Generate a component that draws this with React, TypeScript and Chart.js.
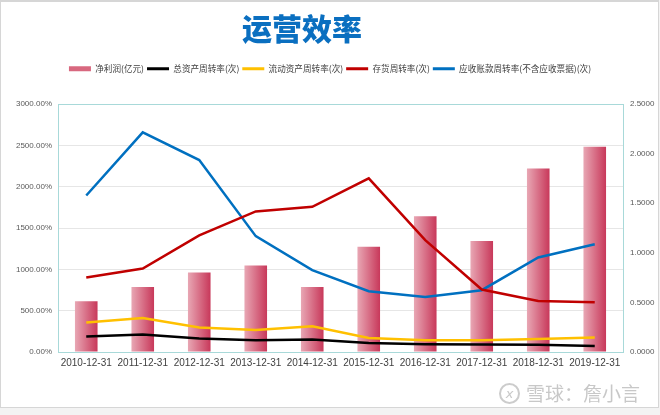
import React, { useEffect, useRef } from 'react';
import { Chart, registerables } from 'chart.js';

Chart.register(...registerables);

const categories = [
  '2010-12-31', '2011-12-31', '2012-12-31', '2013-12-31', '2014-12-31',
  '2015-12-31', '2016-12-31', '2017-12-31', '2018-12-31', '2019-12-31',
];
// 净利润(亿元) — left axis (shown as percentage format)
const netProfit = [6.14, 7.87, 9.62, 10.46, 7.87, 12.72, 16.43, 13.44, 22.21, 24.83];
// right axis series
const totalAssetTurnover = [0.155, 0.176, 0.135, 0.118, 0.125, 0.091, 0.078, 0.075, 0.072, 0.061];
const currentAssetTurnover = [0.297, 0.343, 0.246, 0.222, 0.259, 0.141, 0.118, 0.118, 0.131, 0.145];
const inventoryTurnover = [0.751, 0.842, 1.175, 1.417, 1.463, 1.75, 1.127, 0.63, 0.515, 0.502];
const receivableTurnover = [1.578, 2.214, 1.935, 1.168, 0.825, 0.613, 0.555, 0.623, 0.953, 1.087];

const seriesNames = [
  '净利润(亿元)',
  '总资产周转率(次)',
  '流动资产周转率(次)',
  '存货周转率(次)',
  '应收账款周转率(不含应收票据)(次)',
];
const titleText = '运营效率';
const watermarkText = '雪球：詹小言';

const CJK = '"Noto Sans CJK SC", "Noto Sans", sans-serif';
const LATIN = '"Liberation Sans", Arial, sans-serif';
const TEAL = '#a8d9d9';
const BAR_SOLID = '#d8687f';

export default function App() {
  const ref = useRef<HTMLCanvasElement | null>(null);

  useEffect(() => {
    if (!ref.current) return;

    const shiftTitle = {
      id: 'shiftTitle',
      afterLayout(chart: any) {
        const t = chart.titleBlock;
        if (t) {
          t.left -= 56;
        }
      },
    };

    const chart = new Chart(ref.current, {
      type: 'bar',
      data: {
        labels: categories,
        datasets: [
          {
            type: 'bar',
            label: seriesNames[0],
            data: netProfit,
            yAxisID: 'y',
            order: 1,
            barPercentage: 0.4,
            categoryPercentage: 1,
            borderWidth: 0,
            backgroundColor: (c: any) => {
              const ch = c.chart;
              const xs = ch.scales && ch.scales.x;
              if (!xs || !ch.chartArea || c.type !== 'data') return BAR_SOLID;
              const cx = xs.getPixelForValue(c.dataIndex);
              const w = (xs.width / categories.length) * 0.4;
              const g = ch.ctx.createLinearGradient(cx - w / 2, 0, cx + w / 2, 0);
              g.addColorStop(0, '#e8a7b4');
              g.addColorStop(1, '#c8385a');
              return g;
            },
          } as any,
          {
            type: 'line',
            label: seriesNames[1],
            data: totalAssetTurnover,
            yAxisID: 'y1',
            order: 0,
            borderColor: '#000000',
            backgroundColor: '#000000',
            borderWidth: 2.5,
            pointRadius: 0,
            tension: 0,
            fill: false,
          },
          {
            type: 'line',
            label: seriesNames[2],
            data: currentAssetTurnover,
            yAxisID: 'y1',
            order: 0,
            borderColor: '#ffc000',
            backgroundColor: '#ffc000',
            borderWidth: 2.5,
            pointRadius: 0,
            tension: 0,
            fill: false,
          },
          {
            type: 'line',
            label: seriesNames[3],
            data: inventoryTurnover,
            yAxisID: 'y1',
            order: 0,
            borderColor: '#c00000',
            backgroundColor: '#c00000',
            borderWidth: 2.5,
            pointRadius: 0,
            tension: 0,
            fill: false,
          },
          {
            type: 'line',
            label: seriesNames[4],
            data: receivableTurnover,
            yAxisID: 'y1',
            order: 0,
            borderColor: '#0070c0',
            backgroundColor: '#0070c0',
            borderWidth: 2.5,
            pointRadius: 0,
            tension: 0,
            fill: false,
          },
        ],
      },
      options: {
        responsive: false,
        animation: false,
        devicePixelRatio: 1,
        layout: { padding: 0 },
        plugins: {
          title: {
            display: true,
            text: titleText,
            color: '#0a6fc0',
            font: { family: CJK, size: 30, weight: '900' as any, lineHeight: 1 },
            padding: { top: 14, bottom: 17.5 },
          },
          legend: {
            display: true,
            position: 'top',
            weight: 1600,
            labels: {
              usePointStyle: true,
              pointStyleWidth: 22,
              boxHeight: 5,
              padding: 3,
              color: '#404040',
              font: { family: CJK, size: 8.6 },
              generateLabels: (ch: any) =>
                ch.data.datasets.map((ds: any, i: number) => ({
                  text: ds.label,
                  fillStyle: i === 0 ? BAR_SOLID : ds.borderColor,
                  strokeStyle: i === 0 ? BAR_SOLID : ds.borderColor,
                  lineWidth: i === 0 ? 0 : 3,
                  pointStyle: i === 0 ? 'rect' : 'line',
                  rotation: 0,
                  hidden: false,
                  datasetIndex: i,
                  fontColor: '#404040',
                })),
            },
          } as any,
          subtitle: {
            display: true,
            text: '',
            padding: { top: 0, bottom: 0 },
            font: { size: 20.9, lineHeight: 1 },
          },
          tooltip: { enabled: false },
        },
        scales: {
          x: {
            offset: true,
            grid: { display: false, drawTicks: false },
            border: { display: true, color: TEAL, width: 1 },
            ticks: {
              color: '#404040',
              font: { family: LATIN, size: 10 },
              padding: 5,
              maxRotation: 0,
              autoSkip: false,
            },
            afterFit: (s: any) => {
              s.height = 63;
            },
          },
          y: {
            position: 'left',
            min: 0,
            max: 30,
            ticks: {
              stepSize: 5,
              color: '#595959',
              font: { family: LATIN, size: 8 },
              padding: 6,
              callback: (v: any) => (Number(v) * 100).toFixed(2) + '%',
            },
            grid: {
              drawTicks: false,
              color: (c: any) => (c.tick && c.tick.value === 30 ? TEAL : '#e6e6e6'),
            },
            border: { display: true, color: TEAL, width: 1 },
            afterFit: (s: any) => {
              s.width = 58;
            },
          },
          y1: {
            position: 'right',
            min: 0,
            max: 2.5,
            ticks: {
              stepSize: 0.5,
              color: '#595959',
              font: { family: LATIN, size: 8 },
              padding: 7,
              callback: (v: any) => Number(v).toFixed(4),
            },
            grid: { display: false, drawTicks: false },
            border: { display: true, color: TEAL, width: 1 },
            afterFit: (s: any) => {
              s.width = 37;
            },
          },
        },
      } as any,
      plugins: [shiftTitle],
    });

    return () => chart.destroy();
  }, []);

  return (
    <div style={{ position: 'fixed', left: 0, top: 0, width: 660, height: 415, background: '#f3f3f3', overflow: 'hidden' }}>
      <div
        style={{
          position: 'absolute',
          left: 0,
          top: 0,
          width: 659,
          height: 408,
          background: '#ffffff',
          border: '1px solid #d6d6d6',
          borderTopWidth: 2,
          boxSizing: 'border-box',
        }}
      />
      <canvas ref={ref} width={660} height={415} style={{ position: 'absolute', left: 0, top: 0, width: 660, height: 415 }} />
      <div
        style={{
          position: 'absolute',
          left: 499,
          top: 382,
          height: 22,
          display: 'flex',
          alignItems: 'center',
          color: '#c8c8c8',
          fontFamily: CJK,
          fontSize: 19,
          lineHeight: '22px',
          whiteSpace: 'nowrap',
        }}
      >
        <span
          style={{
            display: 'inline-block',
            width: 17,
            height: 17,
            border: '2px solid #cccccc',
            borderRadius: '50%',
            fontSize: 13,
            lineHeight: '17px',
            textAlign: 'center',
            fontStyle: 'italic',
            marginRight: 6,
            fontFamily: '"DejaVu Sans", sans-serif',
          }}
        >
          x
        </span>
        <span>{watermarkText}</span>
      </div>
    </div>
  );
}
